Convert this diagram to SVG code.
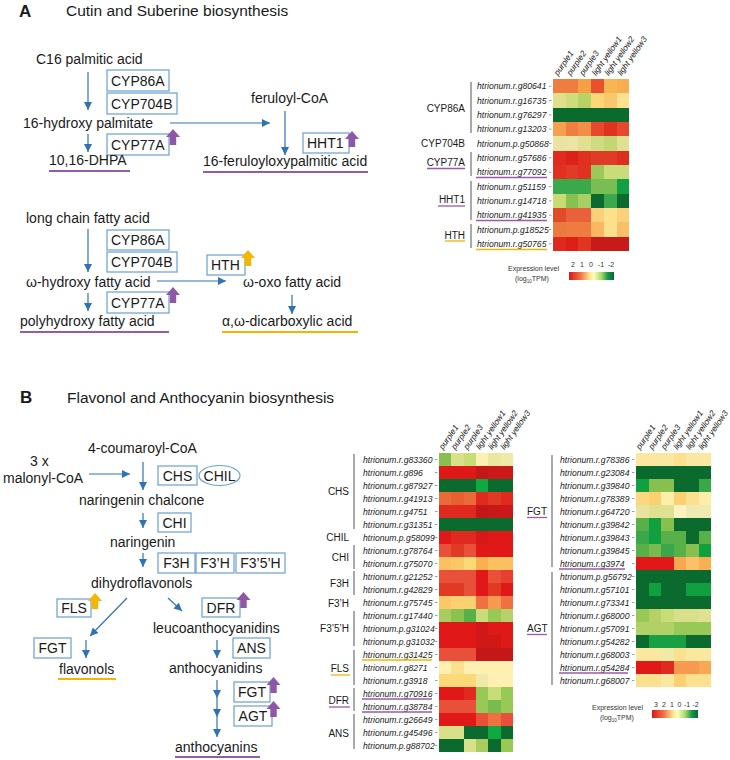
<svg xmlns="http://www.w3.org/2000/svg" width="730" height="760" viewBox="0 0 730 760">
<style>
text{font-family:"Liberation Sans",Arial,sans-serif;fill:#1a1a1a}
.t{font-size:14px}
.ttl{font-size:15.5px}
.pl{font-size:17px;font-weight:bold}
.bx{font-size:14px}
.box{fill:#fff;stroke:#6a9fd4;stroke-width:1.2}
.arr{stroke:#2e74b5;stroke-width:1.2;fill:none;marker-end:url(#ah)}
.arrm{stroke:#2e74b5;stroke-width:1.2;fill:none;marker-mid:url(#ah);marker-end:url(#ah)}
.ulp{stroke:#9a5aab;stroke-width:2.2}
.uly{stroke:#f4b400;stroke-width:2.2}
.ulpt{stroke:#9a5aab;stroke-width:1.3}
.ulyt{stroke:#f4b400;stroke-width:1.3}
.gn{font-size:8.6px;font-style:italic;fill:#555}
.grp{font-size:10px}
.br{stroke:#555;stroke-width:1}
.tk{stroke:#888;stroke-width:0.8}
.col{font-size:8.3px;font-style:italic;fill:#555}
.lg{font-size:7px;fill:#333}
.hm rect{shape-rendering:crispEdges}
</style>
<defs>
<marker id="ah" viewBox="0 0 10 10" refX="10" refY="5" markerWidth="8" markerHeight="8" markerUnits="userSpaceOnUse" orient="auto"><path d="M0,0 L10,5 L0,10 z" fill="#2e74b5"/></marker>
<path id="up" d="M-3.2,0 V-8 H-7 L0,-16 L7,-8 H3.2 V0 Z"/>
<linearGradient id="cb" x1="0" x2="1" y1="0" y2="0">
<stop offset="0" stop-color="#d7191c"/>
<stop offset="0.25" stop-color="#f46d43"/>
<stop offset="0.45" stop-color="#fee08b"/>
<stop offset="0.55" stop-color="#ffffbf"/>
<stop offset="0.72" stop-color="#a6d96a"/>
<stop offset="0.86" stop-color="#1a9850"/>
<stop offset="1" stop-color="#006837"/>
</linearGradient>
</defs>
<rect width="730" height="760" fill="#fff"/>

<!-- Panel A titles -->
<text class="pl" x="19" y="17">A</text>
<text class="ttl" x="66" y="16">Cutin and Suberine biosynthesis</text>

<!-- Panel A pathway nodes -->
<g id="a-c16"><text class="t" x="36" y="64">C16 palmitic acid</text></g>
<g id="a-cyp86a-1"><rect class="box" x="107" y="70" width="62" height="21"/><text class="bx" x="111" y="86">CYP86A</text></g>
<g id="a-cyp704b-1"><rect class="box" x="107" y="93" width="70" height="21"/><text class="bx" x="111" y="109">CYP704B</text></g>
<g id="a-16hp"><text class="t" x="23" y="128">16-hydroxy palmitate</text></g>
<g id="a-cyp77a-1"><rect class="box" x="107" y="134" width="62" height="21"/><text class="bx" x="111" y="150">CYP77A</text><use href="#up" x="173" y="145" fill="#8f58a6"/></g>
<g id="a-dhpa"><text class="t" x="49" y="165">10,16-DHPA</text><line class="ulp" x1="49" y1="171" x2="130" y2="171"/></g>
<g id="a-feruloyl"><text class="t" x="251" y="103">feruloyl-CoA</text></g>
<g id="a-hht1"><rect class="box" x="303" y="133" width="46" height="20"/><text class="bx" x="307" y="148">HHT1</text><use href="#up" x="352" y="147" fill="#8f58a6"/></g>
<g id="a-16fer"><text class="t" x="203" y="166">16-feruloyloxypalmitic acid</text><line class="ulp" x1="203" y1="172" x2="368" y2="172"/></g>

<g id="a-lcfa"><text class="t" x="26" y="223">long chain fatty acid</text></g>
<g id="a-cyp86a-2"><rect class="box" x="107" y="230" width="62" height="20"/><text class="bx" x="111" y="245">CYP86A</text></g>
<g id="a-cyp704b-2"><rect class="box" x="107" y="252" width="70" height="20"/><text class="bx" x="111" y="267">CYP704B</text></g>
<g id="a-whfa"><text class="t" x="26" y="287">ω-hydroxy fatty acid</text></g>
<g id="a-hth"><rect class="box" x="207" y="255" width="38" height="20"/><text class="bx" x="211" y="270">HTH</text><use href="#up" x="248" y="266" fill="#f7b500"/></g>
<g id="a-wofa"><text class="t" x="243" y="287">ω-oxo fatty acid</text></g>
<g id="a-cyp77a-2"><rect class="box" x="107" y="292" width="62" height="21"/><text class="bx" x="111" y="308">CYP77A</text><use href="#up" x="173" y="303" fill="#8f58a6"/></g>
<g id="a-phfa"><text class="t" x="20" y="326">polyhydroxy fatty acid</text><line class="ulp" x1="20" y1="332" x2="169" y2="332"/></g>
<g id="a-dca"><text class="t" x="222" y="326">α,ω-dicarboxylic acid</text><line class="uly" x1="222" y1="332" x2="358" y2="332"/></g>

<!-- Panel B titles -->
<text class="pl" x="20" y="403">B</text>
<text class="ttl" x="67" y="403">Flavonol and Anthocyanin biosynthesis</text>

<!-- Panel B pathway nodes -->
<g id="b-coum"><text class="t" x="88" y="453">4-coumaroyl-CoA</text></g>
<g id="b-malonyl"><text class="t" x="30" y="466">3 x</text><text class="t" x="3" y="483">malonyl-CoA</text></g>
<g id="b-chs"><rect class="box" x="158" y="466" width="39" height="19"/><text class="bx" x="177.5" y="480.5" text-anchor="middle">CHS</text></g>
<g id="b-chil"><ellipse class="box" cx="219.5" cy="475.5" rx="20.5" ry="10"/><text class="bx" x="219.5" y="480.5" text-anchor="middle">CHIL</text></g>
<g id="b-nchal"><text class="t" x="79" y="505">naringenin chalcone</text></g>
<g id="b-chi"><rect class="box" x="158" y="513" width="33" height="19"/><text class="bx" x="174.5" y="527.5" text-anchor="middle">CHI</text></g>
<g id="b-nar"><text class="t" x="110" y="547">naringenin</text></g>
<g id="b-f3h"><rect class="box" x="158" y="553" width="37" height="20"/><text class="bx" x="176.5" y="568" text-anchor="middle">F3H</text></g>
<g id="b-f3ph"><rect class="box" x="196" y="553" width="38" height="20"/><text class="bx" x="215" y="568" text-anchor="middle">F3’H</text></g>
<g id="b-f35h"><rect class="box" x="236" y="553" width="49" height="20"/><text class="bx" x="260.5" y="568" text-anchor="middle">F3’5’H</text></g>
<g id="b-dhf"><text class="t" x="91" y="588">dihydroflavonols</text></g>
<g id="b-fls"><rect class="box" x="57" y="599" width="34" height="18"/><text class="bx" x="74" y="613" text-anchor="middle">FLS</text><use href="#up" x="95" y="609" fill="#f7b500"/></g>
<g id="b-dfr"><rect class="box" x="202" y="598" width="38" height="19"/><text class="bx" x="221" y="612.5" text-anchor="middle">DFR</text><use href="#up" x="243.5" y="608" fill="#8f58a6"/></g>
<g id="b-leuco"><text class="t" x="153" y="633">leucoanthocyanidins</text></g>
<g id="b-fgt1"><rect class="box" x="34" y="638" width="37" height="20"/><text class="bx" x="52.5" y="653" text-anchor="middle">FGT</text></g>
<g id="b-ans"><rect class="box" x="233" y="638" width="37" height="20"/><text class="bx" x="251.5" y="653" text-anchor="middle">ANS</text></g>
<g id="b-flavonols"><text class="t" x="59" y="674">flavonols</text><line class="uly" x1="58" y1="679" x2="116" y2="679"/></g>
<g id="b-anthocyanidins"><text class="t" x="169" y="673">anthocyanidins</text></g>
<g id="b-fgt2"><rect class="box" x="234" y="682" width="36" height="20"/><text class="bx" x="252" y="697" text-anchor="middle">FGT</text><use href="#up" x="273.5" y="693" fill="#8f58a6"/></g>
<g id="b-agt"><rect class="box" x="234" y="706" width="38" height="20"/><text class="bx" x="253" y="721" text-anchor="middle">AGT</text><use href="#up" x="273.5" y="717" fill="#8f58a6"/></g>
<g id="b-anthocyanins"><text class="t" x="175" y="752">anthocyanins</text><line class="ulp" x1="175" y1="757" x2="260" y2="757"/></g>

<!-- connectors -->
<g id="connectors">
<line class="arr" x1="88" y1="72" x2="88" y2="110"/>
<line class="arr" x1="88" y1="134" x2="88" y2="152"/>
<line class="arr" x1="170" y1="123" x2="270" y2="123"/>
<line class="arr" x1="285" y1="111" x2="285" y2="155"/>
<line class="arr" x1="88" y1="229" x2="88" y2="272"/>
<line class="arr" x1="88" y1="293" x2="88" y2="311"/>
<line class="arr" x1="157" y1="281" x2="226" y2="281"/>
<line class="arr" x1="292" y1="295" x2="292" y2="314"/>
<line class="arr" x1="89" y1="474" x2="130" y2="474"/>
<line class="arr" x1="143" y1="462" x2="143" y2="490"/>
<line class="arr" x1="143" y1="513" x2="143" y2="528"/>
<line class="arr" x1="143" y1="553" x2="143" y2="567"/>
<line class="arr" x1="127" y1="598" x2="90" y2="636"/>
<line class="arr" x1="168" y1="598" x2="182" y2="611"/>
<line class="arr" x1="86" y1="640" x2="86" y2="658"/>
<line class="arr" x1="217" y1="640" x2="217" y2="658"/>
<path class="arrm" d="M217,680 V698 V717 V737"/>
</g>

<!-- Heatmap A -->
<g id="heatmap-a">
<g class="col">
<text transform="translate(558,76) rotate(-55)">purple1</text>
<text transform="translate(570.7,76) rotate(-55)">purple2</text>
<text transform="translate(583.4,76) rotate(-55)">purple3</text>
<text transform="translate(596.1,76) rotate(-55)">light yellow1</text>
<text transform="translate(608.8,76) rotate(-55)">light yellow2</text>
<text transform="translate(621.5,76) rotate(-55)">light yellow3</text>
</g>
<g class="hm">
<rect x="553" y="79" width="12.8" height="14.5" fill="#ef7d3f"/><rect x="565.7" y="79" width="12.8" height="14.5" fill="#ef7d3f"/><rect x="578.4" y="79" width="12.8" height="14.5" fill="#f5a045"/><rect x="591.1" y="79" width="12.8" height="14.5" fill="#e8512d"/><rect x="603.8" y="79" width="12.8" height="14.5" fill="#f8b552"/><rect x="616.5" y="79" width="12.8" height="14.5" fill="#f8ae4e"/>
<rect x="553" y="93.33" width="12.8" height="14.5" fill="#dfe08c"/><rect x="565.7" y="93.33" width="12.8" height="14.5" fill="#cfdc7c"/><rect x="578.4" y="93.33" width="12.8" height="14.5" fill="#b9d266"/><rect x="591.1" y="93.33" width="12.8" height="14.5" fill="#fbd77a"/><rect x="603.8" y="93.33" width="12.8" height="14.5" fill="#f9c76c"/><rect x="616.5" y="93.33" width="12.8" height="14.5" fill="#fce28e"/>
<rect x="553" y="107.67" width="76.3" height="14.5" fill="#0b6b2e"/>
<rect x="553" y="122" width="12.8" height="14.5" fill="#f4a04f"/><rect x="565.7" y="122" width="12.8" height="14.5" fill="#ef7f41"/><rect x="578.4" y="122" width="12.8" height="14.5" fill="#f18f47"/><rect x="591.1" y="122" width="12.8" height="14.5" fill="#e54a2b"/><rect x="603.8" y="122" width="12.8" height="14.5" fill="#df3321"/><rect x="616.5" y="122" width="12.8" height="14.5" fill="#e5482d"/>
<rect x="553" y="136.33" width="12.8" height="14.5" fill="#ebe3a2"/><rect x="565.7" y="136.33" width="12.8" height="14.5" fill="#ece4a4"/><rect x="578.4" y="136.33" width="12.8" height="14.5" fill="#dfe092"/><rect x="591.1" y="136.33" width="12.8" height="14.5" fill="#cedb82"/><rect x="603.8" y="136.33" width="12.8" height="14.5" fill="#c3d674"/><rect x="616.5" y="136.33" width="12.8" height="14.5" fill="#dfe092"/>
<rect x="553" y="150.67" width="12.8" height="14.5" fill="#e02b21"/><rect x="565.7" y="150.67" width="12.8" height="14.5" fill="#dc2119"/><rect x="578.4" y="150.67" width="12.8" height="14.5" fill="#df3020"/><rect x="591.1" y="150.67" width="12.8" height="14.5" fill="#e03b26"/><rect x="603.8" y="150.67" width="12.8" height="14.5" fill="#e03b26"/><rect x="616.5" y="150.67" width="12.8" height="14.5" fill="#dd2f21"/>
<rect x="553" y="165" width="12.8" height="14.5" fill="#e03121"/><rect x="565.7" y="165" width="12.8" height="14.5" fill="#e03b26"/><rect x="578.4" y="165" width="12.8" height="14.5" fill="#e03121"/><rect x="591.1" y="165" width="12.8" height="14.5" fill="#9cc857"/><rect x="603.8" y="165" width="12.8" height="14.5" fill="#c9dc7a"/><rect x="616.5" y="165" width="12.8" height="14.5" fill="#c9dc7a"/>
<rect x="553" y="179.33" width="12.8" height="14.5" fill="#3ba94b"/><rect x="565.7" y="179.33" width="12.8" height="14.5" fill="#3ba94b"/><rect x="578.4" y="179.33" width="12.8" height="14.5" fill="#3ba94b"/><rect x="591.1" y="179.33" width="12.8" height="14.5" fill="#7abd52"/><rect x="603.8" y="179.33" width="12.8" height="14.5" fill="#7abd52"/><rect x="616.5" y="179.33" width="12.8" height="14.5" fill="#12a043"/>
<rect x="553" y="193.67" width="12.8" height="14.5" fill="#c9dc72"/><rect x="565.7" y="193.67" width="12.8" height="14.5" fill="#8ac052"/><rect x="578.4" y="193.67" width="12.8" height="14.5" fill="#a9ce62"/><rect x="591.1" y="193.67" width="12.8" height="14.5" fill="#0b6b2e"/><rect x="603.8" y="193.67" width="12.8" height="14.5" fill="#3ba94b"/><rect x="616.5" y="193.67" width="12.8" height="14.5" fill="#0b6b2e"/>
<rect x="553" y="208" width="12.8" height="14.5" fill="#e04b29"/><rect x="565.7" y="208" width="12.8" height="14.5" fill="#e8613b"/><rect x="578.4" y="208" width="12.8" height="14.5" fill="#e8613b"/><rect x="591.1" y="208" width="12.8" height="14.5" fill="#fbd07b"/><rect x="603.8" y="208" width="12.8" height="14.5" fill="#fce08b"/><rect x="616.5" y="208" width="12.8" height="14.5" fill="#fbd07b"/>
<rect x="553" y="222.33" width="12.8" height="14.5" fill="#eb7a41"/><rect x="565.7" y="222.33" width="12.8" height="14.5" fill="#ee7c41"/><rect x="578.4" y="222.33" width="12.8" height="14.5" fill="#ee7c41"/><rect x="591.1" y="222.33" width="12.8" height="14.5" fill="#fab862"/><rect x="603.8" y="222.33" width="12.8" height="14.5" fill="#fce08b"/><rect x="616.5" y="222.33" width="12.8" height="14.5" fill="#f9c069"/>
<rect x="553" y="236.67" width="12.8" height="14.4" fill="#dd2920"/><rect x="565.7" y="236.67" width="12.8" height="14.4" fill="#dd1f18"/><rect x="578.4" y="236.67" width="12.8" height="14.4" fill="#e03520"/><rect x="591.1" y="236.67" width="38.2" height="14.4" fill="#c71a1a"/>
</g>
<g class="gn">
<text x="477" y="89.2">htrionum.r.g80641</text>
<text x="477" y="103.5">htrionum.r.g16735</text>
<text x="477" y="117.8">htrionum.r.g76297</text>
<text x="477" y="132.2">htrionum.r.g13203</text>
<text x="477" y="146.5">htrionum.p.g50868</text>
<text x="477" y="160.8">htrionum.r.g57686</text>
<text x="477" y="175.2">htrionum.r.g77092</text>
<text x="477" y="189.5">htrionum.r.g51159</text>
<text x="477" y="203.8">htrionum.r.g14718</text>
<text x="477" y="218.2">htrionum.r.g41935</text>
<text x="477" y="232.5">htrionum.p.g18525</text>
<text x="477" y="246.8">htrionum.r.g50765</text>
</g>
<g class="tk">
<line x1="549" y1="86.2" x2="551.5" y2="86.2"/><line x1="549" y1="100.5" x2="551.5" y2="100.5"/><line x1="549" y1="114.8" x2="551.5" y2="114.8"/><line x1="549" y1="129.2" x2="551.5" y2="129.2"/><line x1="549" y1="143.5" x2="551.5" y2="143.5"/><line x1="549" y1="157.8" x2="551.5" y2="157.8"/><line x1="549" y1="172.2" x2="551.5" y2="172.2"/><line x1="549" y1="186.5" x2="551.5" y2="186.5"/><line x1="549" y1="200.8" x2="551.5" y2="200.8"/><line x1="549" y1="215.2" x2="551.5" y2="215.2"/><line x1="549" y1="229.5" x2="551.5" y2="229.5"/><line x1="549" y1="243.8" x2="551.5" y2="243.8"/>
</g>
<line class="ulpt" x1="476" y1="177.5" x2="547" y2="177.5"/>
<line class="ulpt" x1="476" y1="220.5" x2="547" y2="220.5"/>
<line class="ulyt" x1="476" y1="249.5" x2="547" y2="249.5"/>
<g class="grp">
<text x="465" y="112" text-anchor="end">CYP86A</text>
<text x="465" y="147" text-anchor="end">CYP704B</text>
<text x="465" y="165.5" text-anchor="end">CYP77A</text>
<text x="465" y="203" text-anchor="end">HHT1</text>
<text x="465" y="238.5" text-anchor="end">HTH</text>
</g>
<line class="ulpt" x1="427" y1="168.5" x2="465" y2="168.5"/>
<line class="ulpt" x1="438" y1="206" x2="465" y2="206"/>
<line class="ulyt" x1="445" y1="241" x2="465" y2="241"/>
<line class="br" x1="471" y1="82" x2="471" y2="133"/>
<line class="br" x1="471" y1="152" x2="471" y2="176"/>
<line class="br" x1="471" y1="181" x2="471" y2="220"/>
<line class="br" x1="471" y1="224" x2="471" y2="248"/>
<g id="legend-a">
<text class="lg" x="508" y="271">Expression level</text>
<text class="lg" x="515" y="281">(log<tspan font-size="4.5" dy="1.5">10</tspan><tspan dy="-1.5">TPM)</tspan></text>
<rect x="569" y="272" width="45" height="8" fill="url(#cb)"/>
<text class="lg" x="573" y="267" text-anchor="middle">2</text>
<text class="lg" x="582" y="267" text-anchor="middle">1</text>
<text class="lg" x="591" y="267" text-anchor="middle">0</text>
<text class="lg" x="601" y="267" text-anchor="middle">-1</text>
<text class="lg" x="611" y="267" text-anchor="middle">-2</text>
</g>
</g>

<!-- Heatmap B left -->
<g id="heatmap-b1">
<g class="col">
<text transform="translate(443,450) rotate(-55)">purple1</text>
<text transform="translate(455.3,450) rotate(-55)">purple2</text>
<text transform="translate(467.6,450) rotate(-55)">purple3</text>
<text transform="translate(480,450) rotate(-55)">light yellow1</text>
<text transform="translate(492.3,450) rotate(-55)">light yellow2</text>
<text transform="translate(504.6,450) rotate(-55)">light yellow3</text>
</g>
<g class="hm">
<rect x="439" y="453" width="12.5" height="13.2" fill="#88c050"/><rect x="451.3" y="453" width="12.5" height="13.2" fill="#d8e08a"/><rect x="463.7" y="453" width="12.5" height="13.2" fill="#c8dc78"/><rect x="476" y="453" width="12.5" height="13.2" fill="#fdf0b0"/><rect x="488.3" y="453" width="12.5" height="13.2" fill="#e8e8a0"/><rect x="500.7" y="453" width="12.5" height="13.2" fill="#f0eaa8"/>
<rect x="439" y="466" width="12.5" height="13.2" fill="#e01818"/><rect x="451.3" y="466" width="12.5" height="13.2" fill="#e01818"/><rect x="463.7" y="466" width="12.5" height="13.2" fill="#e01818"/><rect x="476" y="466" width="12.5" height="13.2" fill="#c41818"/><rect x="488.3" y="466" width="12.5" height="13.2" fill="#cc1818"/><rect x="500.7" y="466" width="12.5" height="13.2" fill="#cc1818"/>
<rect x="439" y="479" width="12.5" height="13.2" fill="#0b6a2d"/><rect x="451.3" y="479" width="12.5" height="13.2" fill="#0b6a2d"/><rect x="463.7" y="479" width="12.5" height="13.2" fill="#0b6a2d"/><rect x="476" y="479" width="12.5" height="13.2" fill="#10a840"/><rect x="488.3" y="479" width="12.5" height="13.2" fill="#0b6a2d"/><rect x="500.7" y="479" width="12.5" height="13.2" fill="#0b6a2d"/>
<rect x="439" y="492" width="12.5" height="13.2" fill="#ea6a38"/><rect x="451.3" y="492" width="12.5" height="13.2" fill="#e86030"/><rect x="463.7" y="492" width="12.5" height="13.2" fill="#ea6a38"/><rect x="476" y="492" width="12.5" height="13.2" fill="#e02a20"/><rect x="488.3" y="492" width="12.5" height="13.2" fill="#e03a25"/><rect x="500.7" y="492" width="12.5" height="13.2" fill="#e02a20"/>
<rect x="439" y="505" width="12.5" height="13.2" fill="#e02a20"/><rect x="451.3" y="505" width="12.5" height="13.2" fill="#e02a20"/><rect x="463.7" y="505" width="12.5" height="13.2" fill="#e02a20"/><rect x="476" y="505" width="12.5" height="13.2" fill="#c41818"/><rect x="488.3" y="505" width="12.5" height="13.2" fill="#c81818"/><rect x="500.7" y="505" width="12.5" height="13.2" fill="#cc1818"/>
<rect x="439" y="518" width="74.2" height="13.2" fill="#0b6a2d"/>
<rect x="439" y="531" width="12.5" height="13.2" fill="#e01818"/><rect x="451.3" y="531" width="12.5" height="13.2" fill="#e02a20"/><rect x="463.7" y="531" width="12.5" height="13.2" fill="#e02a20"/><rect x="476" y="531" width="12.5" height="13.2" fill="#d81818"/><rect x="488.3" y="531" width="12.5" height="13.2" fill="#e01818"/><rect x="500.7" y="531" width="12.5" height="13.2" fill="#e01818"/>
<rect x="439" y="544" width="12.5" height="13.2" fill="#e8503a"/><rect x="451.3" y="544" width="12.5" height="13.2" fill="#e03a25"/><rect x="463.7" y="544" width="12.5" height="13.2" fill="#e8503a"/><rect x="476" y="544" width="37.2" height="13.2" fill="#e01818"/>
<rect x="439" y="557" width="12.5" height="13.2" fill="#fbc060"/><rect x="451.3" y="557" width="12.5" height="13.2" fill="#fbc868"/><rect x="463.7" y="557" width="12.5" height="13.2" fill="#fbd878"/><rect x="476" y="557" width="12.5" height="13.2" fill="#f8b050"/><rect x="488.3" y="557" width="12.5" height="13.2" fill="#fbc060"/><rect x="500.7" y="557" width="12.5" height="13.2" fill="#fbc060"/>
<rect x="439" y="570" width="12.5" height="13.2" fill="#e8503a"/><rect x="451.3" y="570" width="12.5" height="13.2" fill="#e8503a"/><rect x="463.7" y="570" width="12.5" height="13.2" fill="#e8503a"/><rect x="476" y="570" width="12.5" height="13.2" fill="#e01818"/><rect x="488.3" y="570" width="12.5" height="13.2" fill="#e8503a"/><rect x="500.7" y="570" width="12.5" height="13.2" fill="#e84030"/>
<rect x="439" y="583" width="12.5" height="13.2" fill="#e03a25"/><rect x="451.3" y="583" width="12.5" height="13.2" fill="#e03a25"/><rect x="463.7" y="583" width="12.5" height="13.2" fill="#e8503a"/><rect x="476" y="583" width="12.5" height="13.2" fill="#e01818"/><rect x="488.3" y="583" width="12.5" height="13.2" fill="#e03a25"/><rect x="500.7" y="583" width="12.5" height="13.2" fill="#e01818"/>
<rect x="439" y="596" width="12.5" height="13.2" fill="#fbc868"/><rect x="451.3" y="596" width="12.5" height="13.2" fill="#fbd070"/><rect x="463.7" y="596" width="12.5" height="13.2" fill="#fbd070"/><rect x="476" y="596" width="12.5" height="13.2" fill="#ef7040"/><rect x="488.3" y="596" width="12.5" height="13.2" fill="#f59a50"/><rect x="500.7" y="596" width="12.5" height="13.2" fill="#ef7040"/>
<rect x="439" y="609" width="12.5" height="13.2" fill="#a8cc60"/><rect x="451.3" y="609" width="12.5" height="13.2" fill="#8cc050"/><rect x="463.7" y="609" width="12.5" height="13.2" fill="#58b048"/><rect x="476" y="609" width="12.5" height="13.2" fill="#c8dc78"/><rect x="488.3" y="609" width="12.5" height="13.2" fill="#98c855"/><rect x="500.7" y="609" width="12.5" height="13.2" fill="#b8d068"/>
<rect x="439" y="622" width="37.2" height="13.2" fill="#e01818"/><rect x="476" y="622" width="12.5" height="13.2" fill="#d01818"/><rect x="488.3" y="622" width="24.9" height="13.2" fill="#e01818"/>
<rect x="439" y="635" width="37.2" height="13.2" fill="#e01818"/><rect x="476" y="635" width="24.9" height="13.2" fill="#d01818"/><rect x="500.7" y="635" width="12.5" height="13.2" fill="#e01818"/>
<rect x="439" y="648" width="37.2" height="13.2" fill="#e8503a"/><rect x="476" y="648" width="37.2" height="13.2" fill="#c41818"/>
<rect x="439" y="661" width="12.5" height="13.2" fill="#fdf0b0"/><rect x="451.3" y="661" width="12.5" height="13.2" fill="#fbe090"/><rect x="463.7" y="661" width="49.5" height="13.2" fill="#fdf0b0"/>
<rect x="439" y="674" width="37.2" height="13.2" fill="#fbd878"/><rect x="476" y="674" width="12.5" height="13.2" fill="#f0eaa8"/><rect x="488.3" y="674" width="24.9" height="13.2" fill="#fdf0b0"/>
<rect x="439" y="687" width="12.5" height="13.2" fill="#e01818"/><rect x="451.3" y="687" width="12.5" height="13.2" fill="#e01818"/><rect x="463.7" y="687" width="12.5" height="13.2" fill="#e02a20"/><rect x="476" y="687" width="12.5" height="13.2" fill="#98c855"/><rect x="488.3" y="687" width="12.5" height="13.2" fill="#c8dc78"/><rect x="500.7" y="687" width="12.5" height="13.2" fill="#98c855"/>
<rect x="439" y="700" width="37.2" height="13.2" fill="#e8503a"/><rect x="476" y="700" width="12.5" height="13.2" fill="#98c855"/><rect x="488.3" y="700" width="12.5" height="13.2" fill="#78bc50"/><rect x="500.7" y="700" width="12.5" height="13.2" fill="#98c855"/>
<rect x="439" y="713" width="37.2" height="13.2" fill="#e01818"/><rect x="476" y="713" width="12.5" height="13.2" fill="#e8503a"/><rect x="488.3" y="713" width="12.5" height="13.2" fill="#ef7040"/><rect x="500.7" y="713" width="12.5" height="13.2" fill="#e8503a"/>
<rect x="439" y="726" width="12.5" height="13.2" fill="#d8e08a"/><rect x="451.3" y="726" width="12.5" height="13.2" fill="#d8e08a"/><rect x="463.7" y="726" width="24.9" height="13.2" fill="#0b6a2d"/><rect x="488.3" y="726" width="12.5" height="13.2" fill="#10a840"/><rect x="500.7" y="726" width="12.5" height="13.2" fill="#0b6a2d"/>
<rect x="439" y="739" width="24.9" height="13" fill="#0b6a2d"/><rect x="463.7" y="739" width="12.5" height="13" fill="#d8e08a"/><rect x="476" y="739" width="12.5" height="13" fill="#a8cc60"/><rect x="488.3" y="739" width="12.5" height="13" fill="#0b6a2d"/><rect x="500.7" y="739" width="12.5" height="13" fill="#98c855"/>
</g>
<g class="gn">
<text x="363" y="462.5">htrionum.r.g83360</text>
<text x="363" y="475.5">htrionum.r.g896</text>
<text x="363" y="488.5">htrionum.r.g87927</text>
<text x="363" y="501.5">htrionum.r.g41913</text>
<text x="363" y="514.5">htrionum.r.g4751</text>
<text x="363" y="527.5">htrionum.r.g31351</text>
<text x="363" y="540.5">htrionum.p.g58099</text>
<text x="363" y="553.5">htrionum.r.g78764</text>
<text x="363" y="566.5">htrionum.r.g75070</text>
<text x="363" y="579.5">htrionum.r.g21252</text>
<text x="363" y="592.5">htrionum.r.g42829</text>
<text x="363" y="605.5">htrionum.r.g75745</text>
<text x="363" y="618.5">htrionum.r.g17440</text>
<text x="363" y="631.5">htrionum.p.g31024</text>
<text x="363" y="644.5">htrionum.p.g31032</text>
<text x="363" y="657.5">htrionum.r.g31425</text>
<text x="363" y="670.5">htrionum.r.g8271</text>
<text x="363" y="683.5">htrionum.r.g3918</text>
<text x="363" y="696.5">htrionum.r.g70916</text>
<text x="363" y="709.5">htrionum.r.g38784</text>
<text x="363" y="722.5">htrionum.r.g26649</text>
<text x="363" y="735.5">htrionum.r.g45496</text>
<text x="363" y="748.5">htrionum.p.g88702</text>
</g>
<g class="tk">
<line x1="435" y1="459.5" x2="437.5" y2="459.5"/><line x1="435" y1="472.5" x2="437.5" y2="472.5"/><line x1="435" y1="485.5" x2="437.5" y2="485.5"/><line x1="435" y1="498.5" x2="437.5" y2="498.5"/><line x1="435" y1="511.5" x2="437.5" y2="511.5"/><line x1="435" y1="524.5" x2="437.5" y2="524.5"/><line x1="435" y1="537.5" x2="437.5" y2="537.5"/><line x1="435" y1="550.5" x2="437.5" y2="550.5"/><line x1="435" y1="563.5" x2="437.5" y2="563.5"/><line x1="435" y1="576.5" x2="437.5" y2="576.5"/><line x1="435" y1="589.5" x2="437.5" y2="589.5"/><line x1="435" y1="602.5" x2="437.5" y2="602.5"/><line x1="435" y1="615.5" x2="437.5" y2="615.5"/><line x1="435" y1="628.5" x2="437.5" y2="628.5"/><line x1="435" y1="641.5" x2="437.5" y2="641.5"/><line x1="435" y1="654.5" x2="437.5" y2="654.5"/><line x1="435" y1="667.5" x2="437.5" y2="667.5"/><line x1="435" y1="680.5" x2="437.5" y2="680.5"/><line x1="435" y1="693.5" x2="437.5" y2="693.5"/><line x1="435" y1="706.5" x2="437.5" y2="706.5"/><line x1="435" y1="719.5" x2="437.5" y2="719.5"/><line x1="435" y1="732.5" x2="437.5" y2="732.5"/><line x1="435" y1="745.5" x2="437.5" y2="745.5"/>
</g>
<line class="ulyt" x1="362" y1="660" x2="432" y2="660"/>
<line class="ulpt" x1="362" y1="699" x2="432" y2="699"/>
<line class="ulpt" x1="362" y1="712" x2="432" y2="712"/>
<g class="grp">
<text x="349" y="495" text-anchor="end">CHS</text>
<text x="349" y="541" text-anchor="end">CHIL</text>
<text x="349" y="561" text-anchor="end">CHI</text>
<text x="349" y="587" text-anchor="end">F3H</text>
<text x="349" y="607" text-anchor="end">F3’H</text>
<text x="349" y="632" text-anchor="end">F3’5’H</text>
<text x="349" y="672" text-anchor="end">FLS</text>
<text x="349" y="704" text-anchor="end">DFR</text>
<text x="349" y="737" text-anchor="end">ANS</text>
</g>
<line class="ulyt" x1="331" y1="675" x2="350" y2="675"/>
<line class="ulpt" x1="329" y1="707" x2="350" y2="707"/>
<line class="br" x1="354" y1="454" x2="354" y2="529"/>
<line class="br" x1="354" y1="545" x2="354" y2="569"/>
<line class="br" x1="354" y1="571" x2="354" y2="595"/>
<line class="br" x1="354" y1="611" x2="354" y2="646"/>
<line class="br" x1="354" y1="650" x2="354" y2="685"/>
<line class="br" x1="354" y1="688" x2="354" y2="711"/>
<line class="br" x1="354" y1="714" x2="354" y2="749"/>
</g>

<!-- Heatmap B right -->
<g id="heatmap-b2">
<g class="col">
<text transform="translate(640,450) rotate(-55)">purple1</text>
<text transform="translate(652.5,450) rotate(-55)">purple2</text>
<text transform="translate(665,450) rotate(-55)">purple3</text>
<text transform="translate(677.5,450) rotate(-55)">light yellow1</text>
<text transform="translate(690,450) rotate(-55)">light yellow2</text>
<text transform="translate(702.5,450) rotate(-55)">light yellow3</text>
</g>
<g class="hm">
<rect x="636" y="453" width="37.5" height="13.2" fill="#fbe8a0"/><rect x="673.5" y="453" width="12.7" height="13.2" fill="#fbe090"/><rect x="686" y="453" width="25" height="13.2" fill="#fbe8a0"/>
<rect x="636" y="466" width="75" height="13.2" fill="#0b6a2d"/>
<rect x="636" y="479" width="12.7" height="13.2" fill="#10a040"/><rect x="648.5" y="479" width="25.2" height="13.2" fill="#88c050"/><rect x="673.5" y="479" width="25.2" height="13.2" fill="#0b6a2d"/><rect x="698.5" y="479" width="12.5" height="13.2" fill="#3aa84a"/>
<rect x="636" y="492" width="12.7" height="13.2" fill="#fbd880"/><rect x="648.5" y="492" width="12.7" height="13.2" fill="#fbd070"/><rect x="661" y="492" width="12.7" height="13.2" fill="#fdeeaa"/><rect x="673.5" y="492" width="12.7" height="13.2" fill="#fbd070"/><rect x="686" y="492" width="12.7" height="13.2" fill="#fbe090"/><rect x="698.5" y="492" width="12.5" height="13.2" fill="#fdeeaa"/>
<rect x="636" y="505" width="12.7" height="13.2" fill="#e8e4a0"/><rect x="648.5" y="505" width="25.2" height="13.2" fill="#dfe090"/><rect x="673.5" y="505" width="12.7" height="13.2" fill="#fdf3c0"/><rect x="686" y="505" width="25" height="13.2" fill="#efeab0"/>
<rect x="636" y="518" width="12.7" height="13.2" fill="#58b048"/><rect x="648.5" y="518" width="12.7" height="13.2" fill="#10a040"/><rect x="661" y="518" width="12.7" height="13.2" fill="#88c050"/><rect x="673.5" y="518" width="37.5" height="13.2" fill="#0b6a2d"/>
<rect x="636" y="531" width="12.7" height="13.2" fill="#3aa84a"/><rect x="648.5" y="531" width="12.7" height="13.2" fill="#10a040"/><rect x="661" y="531" width="25.2" height="13.2" fill="#58b048"/><rect x="686" y="531" width="12.7" height="13.2" fill="#0b6a2d"/><rect x="698.5" y="531" width="12.5" height="13.2" fill="#58b048"/>
<rect x="636" y="544" width="12.7" height="13.2" fill="#58b048"/><rect x="648.5" y="544" width="12.7" height="13.2" fill="#78bc50"/><rect x="661" y="544" width="12.7" height="13.2" fill="#3aa84a"/><rect x="673.5" y="544" width="12.7" height="13.2" fill="#58b048"/><rect x="686" y="544" width="12.7" height="13.2" fill="#88c050"/><rect x="698.5" y="544" width="12.5" height="13.2" fill="#10a040"/>
<rect x="636" y="557" width="37.7" height="13.2" fill="#e01818"/><rect x="673.5" y="557" width="12.7" height="13.2" fill="#f8a850"/><rect x="686" y="557" width="12.7" height="13.2" fill="#fbc068"/><rect x="698.5" y="557" width="12.5" height="13.2" fill="#f8b050"/>
<rect x="636" y="570" width="75" height="13.2" fill="#0b6a2d"/>
<rect x="636" y="583" width="12.7" height="13.2" fill="#0b6a2d"/><rect x="648.5" y="583" width="12.7" height="13.2" fill="#10a040"/><rect x="661" y="583" width="25.2" height="13.2" fill="#0b6a2d"/><rect x="686" y="583" width="25" height="13.2" fill="#10a040"/>
<rect x="636" y="596" width="75" height="13.2" fill="#0b6a2d"/>
<rect x="636" y="609" width="12.7" height="13.2" fill="#98c855"/><rect x="648.5" y="609" width="12.7" height="13.2" fill="#b8d068"/><rect x="661" y="609" width="12.7" height="13.2" fill="#c8dc78"/><rect x="673.5" y="609" width="25.2" height="13.2" fill="#d8e08a"/><rect x="698.5" y="609" width="12.5" height="13.2" fill="#e0e090"/>
<rect x="636" y="622" width="37.7" height="13.2" fill="#b0d068"/><rect x="673.5" y="622" width="37.5" height="13.2" fill="#98c855"/>
<rect x="636" y="635" width="12.7" height="13.2" fill="#0b6a2d"/><rect x="648.5" y="635" width="37.7" height="13.2" fill="#18a043"/><rect x="686" y="635" width="25" height="13.2" fill="#0b6a2d"/>
<rect x="636" y="648" width="25.2" height="13.2" fill="#fbe8a0"/><rect x="661" y="648" width="12.7" height="13.2" fill="#f0eaa8"/><rect x="673.5" y="648" width="12.7" height="13.2" fill="#fbe090"/><rect x="686" y="648" width="25" height="13.2" fill="#fbe8a0"/>
<rect x="636" y="661" width="25.2" height="13.2" fill="#e01818"/><rect x="661" y="661" width="12.7" height="13.2" fill="#e02a20"/><rect x="673.5" y="661" width="25.2" height="13.2" fill="#f59a50"/><rect x="698.5" y="661" width="12.5" height="13.2" fill="#f8a850"/>
<rect x="636" y="674" width="25.2" height="13" fill="#fbe090"/><rect x="661" y="674" width="12.7" height="13" fill="#fbe8a0"/><rect x="673.5" y="674" width="12.7" height="13" fill="#fbd070"/><rect x="686" y="674" width="25" height="13" fill="#fbe090"/>
</g>
<g class="gn">
<text x="560" y="462.5">htrionum.r.g78386</text>
<text x="560" y="475.5">htrionum.r.g23084</text>
<text x="560" y="488.5">htrionum.r.g39840</text>
<text x="560" y="501.5">htrionum.r.g78389</text>
<text x="560" y="514.5">htrionum.r.g64720</text>
<text x="560" y="527.5">htrionum.r.g39842</text>
<text x="560" y="540.5">htrionum.r.g39843</text>
<text x="560" y="553.5">htrionum.r.g39845</text>
<text x="560" y="566.5">htrionum.r.g3974</text>
<text x="560" y="579.5">htrionum.p.g56792</text>
<text x="560" y="592.5">htrionum.r.g57101</text>
<text x="560" y="605.5">htrionum.r.g73341</text>
<text x="560" y="618.5">htrionum.r.g68000</text>
<text x="560" y="631.5">htrionum.r.g57091</text>
<text x="560" y="644.5">htrionum.r.g54282</text>
<text x="560" y="657.5">htrionum.r.g68003</text>
<text x="560" y="670.5">htrionum.r.g54284</text>
<text x="560" y="683.5">htrionum.r.g68007</text>
</g>
<g class="tk">
<line x1="632" y1="459.5" x2="634.5" y2="459.5"/><line x1="632" y1="472.5" x2="634.5" y2="472.5"/><line x1="632" y1="485.5" x2="634.5" y2="485.5"/><line x1="632" y1="498.5" x2="634.5" y2="498.5"/><line x1="632" y1="511.5" x2="634.5" y2="511.5"/><line x1="632" y1="524.5" x2="634.5" y2="524.5"/><line x1="632" y1="537.5" x2="634.5" y2="537.5"/><line x1="632" y1="550.5" x2="634.5" y2="550.5"/><line x1="632" y1="563.5" x2="634.5" y2="563.5"/><line x1="632" y1="576.5" x2="634.5" y2="576.5"/><line x1="632" y1="589.5" x2="634.5" y2="589.5"/><line x1="632" y1="602.5" x2="634.5" y2="602.5"/><line x1="632" y1="615.5" x2="634.5" y2="615.5"/><line x1="632" y1="628.5" x2="634.5" y2="628.5"/><line x1="632" y1="641.5" x2="634.5" y2="641.5"/><line x1="632" y1="654.5" x2="634.5" y2="654.5"/><line x1="632" y1="667.5" x2="634.5" y2="667.5"/><line x1="632" y1="680.5" x2="634.5" y2="680.5"/>
</g>
<line class="ulpt" x1="559" y1="569" x2="625" y2="569"/>
<line class="ulpt" x1="559" y1="673" x2="628" y2="673"/>
<g class="grp">
<text x="527" y="514.5">FGT</text>
<text x="527" y="631.5">AGT</text>
</g>
<line class="ulpt" x1="527" y1="517.5" x2="547" y2="517.5"/>
<line class="ulpt" x1="527" y1="634.5" x2="547" y2="634.5"/>
<line class="br" x1="552" y1="455" x2="552" y2="567"/>
<line class="br" x1="552" y1="572" x2="552" y2="685"/>
<g id="legend-b">
<text class="lg" x="592" y="710">Expression level</text>
<text class="lg" x="600" y="720">(log<tspan font-size="4.5" dy="1.5">10</tspan><tspan dy="-1.5">TPM)</tspan></text>
<rect x="652" y="710" width="46" height="8" fill="url(#cb)"/>
<text class="lg" x="656" y="707" text-anchor="middle">3</text>
<text class="lg" x="664" y="707" text-anchor="middle">2</text>
<text class="lg" x="672" y="707" text-anchor="middle">1</text>
<text class="lg" x="679.5" y="707" text-anchor="middle">0</text>
<text class="lg" x="687" y="707" text-anchor="middle">-1</text>
<text class="lg" x="695.5" y="707" text-anchor="middle">-2</text>
</g>
</g>
</svg>
